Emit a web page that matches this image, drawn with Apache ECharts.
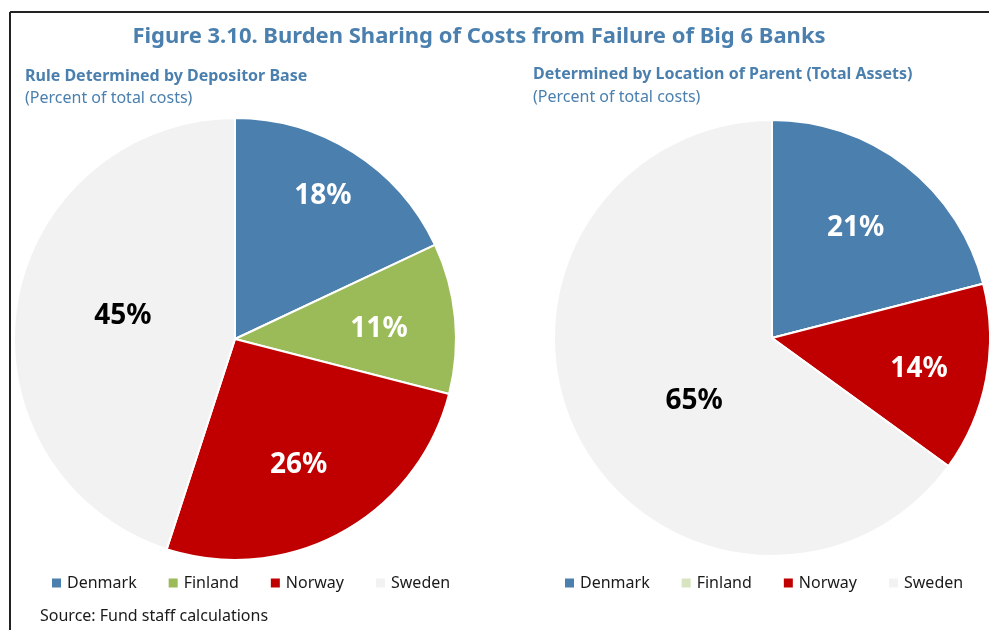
<!DOCTYPE html>
<html>
<head>
<meta charset="utf-8">
<title>Figure 3.10</title>
<script src="https://cdn.jsdelivr.net/npm/echarts@6/dist/echarts.min.js"></script>
<style>
  html, body { margin: 0; padding: 0; background: #fff; }
  #chart { width: 989px; height: 630px; }
</style>
</head>
<body>
<div id="chart"></div>
<script>
// data
var countries = ['Denmark', 'Finland', 'Norway', 'Sweden'];
var depositorShares = [18, 11, 26, 45];   // left pie, percent
var parentShares = [21, 0, 14, 65];       // right pie, percent

var blue = '#4a7fae', green = '#9bbb59', red = '#c00000', grey = '#f2f2f2';
var titleBlue = '#4a7fae';
var font = '"Noto Sans", "Open Sans", sans-serif';

// label nudges (Excel puts labels further out than echarts' "inside")
var leftNudge = { Denmark: [27, -47], Finland: [31, 1], Norway: [9, 27], Sweden: [0, -5] };
var rightNudge = { Denmark: [15, -21], Finland: [0, 0], Norway: [37, 10], Sweden: [22, 12] };

function buildData(values, colors, nudge) {
    return countries.map(function (c, i) {
        return {
            name: c,
            value: values[i],
            itemStyle: { color: colors[i] },
            label: {
                color: c === 'Sweden' ? '#000' : '#fff',
                offset: nudge[c],
                show: values[i] > 0
            }
        };
    });
}

function pieSeries(name, center, radius, data) {
    return {
        name: name,
        type: 'pie',
        center: center,
        radius: radius,
        startAngle: 90,
        clockwise: true,
        animation: false,
        silent: true,
        avoidLabelOverlap: false,
        itemStyle: { borderColor: '#fff', borderWidth: 2 },
        label: {
            show: true,
            position: 'inside',
            formatter: '{c}%',
            fontFamily: font,
            fontWeight: 'bold',
            fontSize: 28
        },
        labelLine: { show: false },
        emphasis: { disabled: true },
        data: data
    };
}

function legendFor(left, colors) {
    return {
        left: left,
        top: 570,
        itemWidth: 11,
        itemHeight: 11,
        itemGap: 30,
        icon: 'rect',
        selectedMode: false,
        textStyle: { fontFamily: font, fontSize: 16, color: '#1a1a1a' },
        data: countries.map(function (c, i) {
            return { name: c, itemStyle: { color: colors[i] } };
        })
    };
}

var myChart = echarts.init(document.getElementById('chart'));
var option = {
    backgroundColor: '#fff',
    title: [
        {
            text: 'Figure 3.10. Burden Sharing of Costs from Failure of Big 6 Banks',
            left: 474, top: 21, textAlign: 'center',
            textStyle: { fontFamily: font, fontWeight: 'bold', fontSize: 22, color: titleBlue }
        },
        {
            text: 'Rule Determined by Depositor Base',
            subtext: '(Percent of total costs)',
            left: 20, top: 63, itemGap: 6,
            textStyle: { fontFamily: font, fontWeight: 'bold', fontSize: 16, color: titleBlue },
            subtextStyle: { fontFamily: font, fontSize: 16, color: titleBlue }
        },
        {
            text: 'Determined by Location of Parent (Total Assets)',
            subtext: '(Percent of total costs)',
            left: 528, top: 61, itemGap: 7,
            textStyle: { fontFamily: font, fontWeight: 'bold', fontSize: 16, color: titleBlue },
            subtextStyle: { fontFamily: font, fontSize: 16, color: titleBlue }
        },
        {
            text: 'Source: Fund staff calculations',
            left: 35, top: 603,
            textStyle: { fontFamily: font, fontWeight: 'normal', fontSize: 16, color: '#1a1a1a' }
        }
    ],
    legend: [
        legendFor(45, [blue, green, red, grey]),
        legendFor(558, [blue, '#d8e4bf', red, grey])
    ],
    graphic: [
        { type: 'line', shape: { x1: 10, y1: 12, x2: 989, y2: 12 }, style: { stroke: '#222', lineWidth: 2 } },
        { type: 'line', shape: { x1: 10, y1: 12, x2: 10, y2: 630 }, style: { stroke: '#222', lineWidth: 2 } }
    ],
    series: [
        pieSeries('Depositor base', [235, 339], 221, buildData(depositorShares, [blue, green, red, grey], leftNudge)),
        pieSeries('Location of parent', [772, 338], 218, buildData(parentShares, [blue, green, red, grey], rightNudge))
    ]
};
myChart.setOption(option);
</script>
</body>
</html>
